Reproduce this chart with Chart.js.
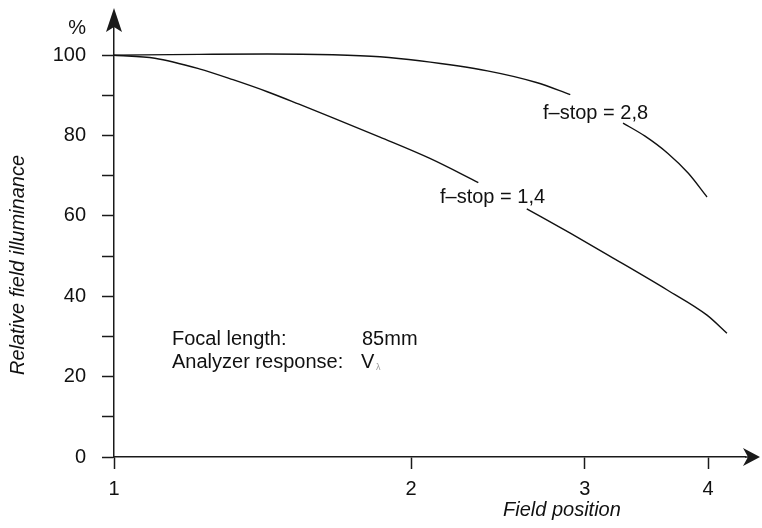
<!DOCTYPE html>
<html>
<head>
<meta charset="utf-8">
<script src="https://cdn.jsdelivr.net/npm/chart.js@4.4.1/dist/chart.umd.min.js"></script>
<style>
  html, body { margin: 0; padding: 0; background: #ffffff; }
  canvas { display: block; }
</style>
</head>
<body>
<canvas id="c" width="762" height="528"></canvas>
<script>
// ---- data ----
const xTickValues = [1, 2, 3, 4];
const yLabelValues = [0, 20, 40, 60, 80, 100];

// f-stop = 2,8 (null marks the gap where the label sits)
const fstop28X = [1.00, 1.22, 1.43, 1.667, 1.86, 2.04, 2.39, 2.68, 2.90, 3.05, 3.28, 3.45, 3.64, 3.82, 3.99];
const fstop28Y = [100.0, 100.2, 100.3, 100.1, 99.6, 98.6, 96.1, 93.2, 90.2, null, 83.1, 79.9, 75.6, 70.6, 64.7];

// f-stop = 1,4
const fstop14X = [1.00, 1.10, 1.22, 1.32, 1.43, 1.54, 1.667, 1.86, 2.09, 2.34, 2.48, 2.62, 2.90, 3.18, 3.64, 3.99, 4.18];
const fstop14Y = [100.0, 99.25, 96.6, 93.9, 90.9, 87.8, 84.4, 79.6, 74.3, 68.3, null, 61.75, 55.7, 50.0, 41.5, 35.3, 30.8];

const labelFstop28 = 'f\u2013stop = 2,8';
const labelFstop14 = 'f\u2013stop = 1,4';
const yTitle = 'Relative field illuminance';
const xTitle = 'Field position';
const yUnit = '%';

const FONT = '"Liberation Sans", Arial, Helvetica, sans-serif';
const FS = 20;
const INK = '#111111';

function pts(xs, ys) { return xs.map((x, i) => ({ x: x, y: ys[i] })); }

const annotate = {
  id: 'annotate',
  afterDraw(chart) {
    const ctx = chart.ctx;
    const a = chart.chartArea;
    ctx.save();
    ctx.strokeStyle = '#1a1a1a';
    ctx.fillStyle = '#1a1a1a';
    ctx.lineWidth = 1.5;
    // axis extensions
    ctx.beginPath();
    ctx.moveTo(a.right, a.bottom); ctx.lineTo(a.right + 6, a.bottom);
    ctx.moveTo(a.left, a.top); ctx.lineTo(a.left, a.top - 4);
    ctx.stroke();
    // x arrowhead
    const tx = a.right + 15, ty = a.bottom;
    ctx.beginPath();
    ctx.moveTo(tx, ty);
    ctx.lineTo(tx - 17, ty - 9);
    ctx.lineTo(tx - 12, ty);
    ctx.lineTo(tx - 17, ty + 9);
    ctx.closePath(); ctx.fill();
    // y arrowhead
    const ax = a.left, ay = 8;
    ctx.beginPath();
    ctx.moveTo(ax, ay);
    ctx.lineTo(ax - 8, ay + 24);
    ctx.lineTo(ax, ay + 19);
    ctx.lineTo(ax + 8, ay + 24);
    ctx.closePath(); ctx.fill();

    // texts
    ctx.fillStyle = INK;
    ctx.font = FS + 'px ' + FONT;
    ctx.textBaseline = 'middle';
    ctx.textAlign = 'right';
    ctx.fillText(yUnit, 86, 28);
    ctx.textAlign = 'left';
    ctx.fillText(labelFstop28, 543, 113);
    ctx.fillText(labelFstop14, 440, 197);
    ctx.fillText('Focal length:', 172, 339);
    ctx.fillText('85mm', 362, 339);
    ctx.fillText('Analyzer response:', 172, 362);
    ctx.fillText('V', 361, 362);
    ctx.fillStyle = '#9a9a9a';
    ctx.font = '9px ' + FONT;
    ctx.fillText('\u03bb', 376, 368);

    ctx.fillStyle = INK;
    ctx.font = 'italic ' + FS + 'px ' + FONT;
    ctx.textAlign = 'left';
    ctx.fillText(xTitle, 503, 510);
    ctx.translate(18, 265);
    ctx.rotate(-Math.PI / 2);
    ctx.textAlign = 'center';
    ctx.fillText(yTitle, 0, 0);
    ctx.restore();
  }
};

new Chart(document.getElementById('c'), {
  type: 'line',
  data: {
    datasets: [
      {
        label: labelFstop28,
        data: pts(fstop28X, fstop28Y),
        borderColor: '#111111',
        borderWidth: 1.4,
        pointRadius: 0,
        cubicInterpolationMode: 'monotone',
        spanGaps: false,
        fill: false
      },
      {
        label: labelFstop14,
        data: pts(fstop14X, fstop14Y),
        borderColor: '#111111',
        borderWidth: 1.4,
        pointRadius: 0,
        cubicInterpolationMode: 'monotone',
        spanGaps: false,
        fill: false
      }
    ]
  },
  options: {
    responsive: false,
    animation: false,
    layout: { padding: { left: 0, right: 17, top: 15, bottom: 0 } },
    plugins: { legend: { display: false }, tooltip: { enabled: false }, title: { display: false } },
    scales: {
      x: {
        type: 'logarithmic',
        min: 1,
        max: 4.36,
        afterBuildTicks: (s) => { s.ticks = xTickValues.map(v => ({ value: v })); },
        afterFit: (s) => { s.height = 71; s.paddingLeft = 0; s.paddingRight = 0; },
        ticks: {
          autoSkip: false,
          maxRotation: 0,
          padding: 8,
          color: INK,
          font: { family: FONT, size: FS },
          callback: (v) => String(v)
        },
        grid: {
          drawOnChartArea: false,
          drawTicks: true,
          tickLength: 12,
          tickWidth: 1.5,
          tickColor: '#1a1a1a'
        },
        border: { display: true, color: '#1a1a1a', width: 1.5 }
      },
      y: {
        type: 'linear',
        min: 0,
        max: 110,
        afterBuildTicks: (s) => {
          const t = [];
          for (let v = 0; v <= 100; v += 10) t.push({ value: v });
          s.ticks = t;
        },
        afterFit: (s) => { s.width = 114; s.paddingTop = 0; s.paddingBottom = 0; },
        ticks: {
          autoSkip: false,
          padding: 16,
          color: INK,
          font: { family: FONT, size: FS },
          callback: (v) => (yLabelValues.includes(v) ? String(v) : '')
        },
        grid: {
          drawOnChartArea: false,
          drawTicks: true,
          tickLength: 12,
          tickWidth: 1.5,
          tickColor: '#1a1a1a'
        },
        border: { display: true, color: '#1a1a1a', width: 1.5 }
      }
    }
  },
  plugins: [annotate]
});
</script>
</body>
</html>
